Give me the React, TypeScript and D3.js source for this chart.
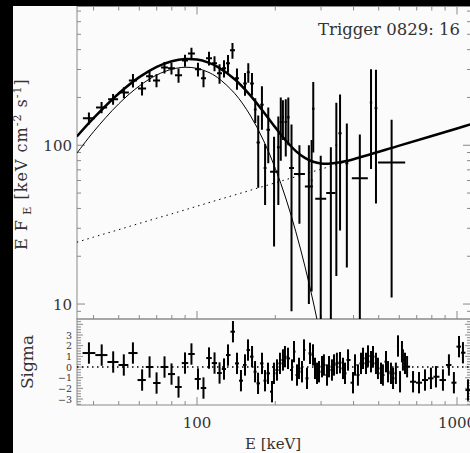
import React from 'react';
import * as d3 from 'd3';

// ---------- data ----------
// upper panel: energy bin edges (keV), E F_E value and 1-sigma error
const binLo = [36.4, 40.9, 45.5, 50.1, 54.7, 59.3, 63.7, 67.7, 72.7, 77.3, 82.3, 87.6, 92.3, 98.2, 103.6, 108.3, 114.2, 119.4, 124.8, 129.3, 133.9, 140,
  150.5, 155.5, 160, 165.5, 169.5, 175, 180.5, 185, 191, 203, 208, 212, 217, 222, 226, 236, 260, 277, 274, 285, 314, 341, 350, 372, 394, 462, 482, 497];
const binHi = [40.5, 45.1, 49.7, 54.7, 58.8, 63.7, 67.7, 72.1, 77.3, 82.3, 87.6, 92.3, 98.2, 103.6, 108.3, 114.2, 119.4, 124.8, 129.3, 133.9, 140, 145,
  155.5, 159.5, 165.5, 169.5, 174.5, 180.5, 185, 191, 205, 208, 212, 216, 222, 227, 236, 260, 279, 283, 278, 314, 341, 346, 360, 382, 454, 472, 494, 632];
const fluxVal = [148, 173, 195, 215, 256, 228, 272, 256, 309, 305, 276, 342, 379, 301, 264, 353, 328, 284, 305, 328, 396, 264,
  245, 288, 245, 168, 104, 180, 72, 125, 68, 97, 140, 150, 140, 150, 72, 66, 55, 170, 60, 46, 50, 100, 119, 77, 62, 186, 171, 78];
const fluxErr = [13, 14, 15, 17, 25, 22, 22, 24, 26, 26, 28, 30, 32, 30, 32, 35, 35, 40, 38, 42, 45, 40,
  40, 40, 40, 30, 50, 55, 30, 48, 45, 55, 60, 42, 55, 50, 63, 34, 45, 80, 48, 40, 47, 85, 90, 60, 55, 115, 128, 67];

// model curves (E F_E) sampled at energies
const modelE = [34.5, 40, 50, 60, 70, 80, 90, 100, 110, 120, 140, 160, 180, 200, 220, 240, 260, 280, 300, 320, 350, 400, 600, 800, 1000, 1200];
const compVal = [89, 121.7, 182.4, 236.3, 277, 301, 310, 305, 289.5, 266.8, 211, 155, 107.7, 71.6, 45.9, 28.5, 17.3, 10.3, 6.0, 3.45, 1.46, 0.33, 0, 0, 0, 0];
const plVal = [24.5, 26.4, 29.4, 32.2, 34.7, 37.0, 39.2, 41.3, 43.3, 45.2, 48.7, 52.0, 55.1, 58.0, 60.8, 63.4, 66.0, 68.4, 70.7, 73.0, 76.3, 81.4, 99.4, 114.4, 127.6, 139.6];

// residual panel: channel energies (keV) and residuals (sigma)
const resE = [38.4, 43.0, 47.6, 52.3, 56.7, 61.5, 65.7, 69.9, 75.0, 79.8, 84.9, 89.9, 95.2, 100.9, 105.9, 111.2, 116.8, 122.1, 127.0, 131.6,
  137.5, 142.5, 147.6, 153, 157.1, 162.8, 167.2, 171.7, 177.8, 182.6, 187.5, 194.3, 197.7, 203.1, 208.5, 214.1, 217.9, 223.9, 231.9, 236.1,
  242.5, 246.8, 253.4, 257.9, 264.9, 272, 279.3, 284.4, 289.5, 294.6, 302.6, 307.7, 316.2, 321.9, 330.4, 336.5, 345.2, 354.9, 364.4, 370.8,
  381, 398.1, 405.3, 415.9, 427.4, 434.9, 446.7, 454.7, 466.9, 475.3, 487.9, 496.6, 510.2, 518.9, 533.3, 542.8, 557.2, 567.5, 582.1, 593,
  603.8, 614.2, 619.5, 631, 642.7, 677.5, 714.2, 753.4, 794, 830, 883, 931, 973, 1018, 1054, 1102];
const resSig = [1.31, 1.12, 0.47, 0.19, 1.31, -1.22, 0, -1.5, 0, -0.66, -1.87, 0.37, 1.22, -1.12, -1.97, 0.84, 0.37, -0.56, -0.19, 1.12,
  3.31, 0.34, -1.28, 0.19, 1.59, 0.97, -0.44, -1.53, 0.34, -1.28, -0.59, -2.31, -0.59, -0.28, 0.34, 0.66, 0.97, 0.81, -0.28, 1.44,
  -0.75, -0.13, -0.44, 1.59, -1.06, 1.28, 1.13, -0.13, -0.59, -0.44, 0.03, 0.19, -0.75, 0.03, -0.28, 0.19, 0.34, 0.41, -0.13, -0.59,
  0.66, -1.47, 0.19, -0.75, 0.34, 0.81, 0.34, 1.03, 0.5, 0.97, 0.34, -0.13, -0.59, -0.75, 0.5, -0.44, -0.59, -1.06, -0.59, 1.97,
  -1.38, 1.44, 0.66, 0.34, 0.03, -1.38, -1.47, -1.22, -1.06, -0.91, -1.22, 0.19, -1.47, 1.91, 1.34, -2.16];

const xMajor = [100, 1000];
const xMinor = [40, 50, 60, 70, 80, 90, 200, 300, 400, 500, 600, 700, 800, 900];
const yMajor = [10, 100];
const yMajorLabels = ['10', '100'];
const yMinor = [9, 20, 30, 40, 50, 60, 70, 80, 90, 200, 300, 400, 500, 600, 700];
const sigLabels = [3, 2, 1, 0, -1, -2, -3];

export default function App() {
  const W = 470, H = 453;
  const L = 77, R = 471, T = 6.5, M = 319, B = 405;
  const x = d3.scaleLog().domain([34.55, 1132]).range([L, R]);
  const y = d3.scaleLog().domain([8.05, 748]).range([M, T]);
  const ys = d3.scaleLinear().domain([-3.56, 4.5]).range([B, M]);
  const axisCol = '#8a8a8a';
  const txtCol = '#333';
  const font = 'DejaVu Serif';

  const lineLL = d3.line<[number, number]>().x(d => x(d[0])).y(d => y(d[1])).curve(d3.curveCatmullRom);
  const compPts: [number, number][] = modelE.map((e, i) => [e, compVal[i]] as [number, number]).filter(d => d[1] > 0);
  const totPts: [number, number][] = modelE.map((e, i) => [e, compVal[i] + plVal[i]] as [number, number]);
  const plPts: [number, number][] = modelE.map((e, i) => [e, plVal[i]] as [number, number]);
  const plLine = d3.line<[number, number]>().x(d => x(d[0])).y(d => y(d[1]));

  // residual bin edges: log-midpoints between neighbouring channels
  const resEdges = resE.map((e, i) => {
    const prev = i > 0 ? resE[i - 1] : e * e / resE[i + 1];
    const next = i < resE.length - 1 ? resE[i + 1] : e * e / resE[i - 1];
    return [Math.sqrt(prev * e), Math.sqrt(e * next)];
  });

  const ticks: JSX.Element[] = [];
  [...xMajor.map(v => [v, 8]), ...xMinor.map(v => [v, 4])].forEach(([v, len], i) => {
    const px = x(v);
    ticks.push(<line key={'xt' + i} x1={px} x2={px} y1={T} y2={T + len} />);
    ticks.push(<line key={'xb' + i} x1={px} x2={px} y1={M} y2={M - len} />);
    ticks.push(<line key={'xl' + i} x1={px} x2={px} y1={B} y2={B - len} />);
  });
  [...yMajor.map(v => [v, 8]), ...yMinor.map(v => [v, 4])].forEach(([v, len], i) => {
    const py = y(v);
    ticks.push(<line key={'yl' + i} x1={L} x2={L + len} y1={py} y2={py} />);
    ticks.push(<line key={'yr' + i} x1={R} x2={R - len} y1={py} y2={py} />);
  });
  d3.range(-14, 18).forEach((k) => {
    const v = k * 0.25;
    const len = k % 4 === 0 ? 6 : 4;
    const py = ys(v);
    ticks.push(<line key={'sl' + k} x1={L} x2={L + len} y1={py} y2={py} />);
    ticks.push(<line key={'sr' + k} x1={R} x2={R - len} y1={py} y2={py} />);
  });

  return (
    <svg width={W} height={H} style={{ position: 'absolute', left: 0, top: 0 }} xmlns="http://www.w3.org/2000/svg">
      <defs>
        <clipPath id="upClip"><rect x={L} y={T} width={R - L} height={M - T} /></clipPath>
        <clipPath id="loClip"><rect x={L} y={M} width={R - L} height={B - M} /></clipPath>
      </defs>
      <rect x={0} y={0} width={W} height={H} fill="#000" />
      <rect x={13} y={6} width={W - 13} height={H - 6} fill="#fbfbfb" />

      <g stroke={axisCol} strokeWidth={1} fill="none">
        <rect x={L} y={T} width={R - L} height={M - T} />
        <rect x={L} y={M} width={R - L} height={B - M} />
        {ticks}
      </g>

      <g clipPath="url(#upClip)">
        <path d={plLine(plPts) || ''} fill="none" stroke="#000" strokeWidth={1} strokeDasharray="1.5,4" />
        <path d={lineLL(compPts) || ''} fill="none" stroke="#000" strokeWidth={1} />
        <path d={lineLL(totPts) || ''} fill="none" stroke="#000" strokeWidth={2.5} />
        <g stroke="#000" strokeWidth={2}>
          {fluxVal.map((f, i) => {
            const xc = x(Math.sqrt(binLo[i] * binHi[i]));
            const lo = f - fluxErr[i];
            const yTop = y(f + fluxErr[i]);
            const yBot = lo > 0 ? y(lo) : M + 10;
            return (
              <g key={'f' + i}>
                <line x1={x(binLo[i])} x2={x(binHi[i])} y1={y(f)} y2={y(f)} />
                <line x1={xc} x2={xc} y1={yTop} y2={Math.min(yBot, M + 10)} />
              </g>
            );
          })}
        </g>
      </g>

      <g clipPath="url(#loClip)">
        <line x1={L} x2={R} y1={ys(0)} y2={ys(0)} stroke="#000" strokeWidth={1.5} strokeDasharray="1.5,3.5" />
        <g stroke="#000" strokeWidth={2}>
          {resSig.map((s, i) => {
            const xc = x(resE[i]);
            return (
              <g key={'r' + i}>
                <line x1={x(resEdges[i][0])} x2={x(resEdges[i][1])} y1={ys(s)} y2={ys(s)} />
                <line x1={xc} x2={xc} y1={ys(s + 1)} y2={ys(s - 1)} />
              </g>
            );
          })}
        </g>
      </g>

      <g fill={txtCol} fontFamily={font}>
        <text x={318} y={35} fontSize={16.5}>Trigger 0829: 16</text>
        {yMajor.map((v, i) => (
          <text key={'yl' + i} x={72} y={y(v) + 6} fontSize={15} textAnchor="end">{yMajorLabels[i]}</text>
        ))}
        {sigLabels.map((v) => (
          <text key={'sg' + v} x={72} y={ys(v) + 3.5} fontSize={9.5} textAnchor="end">{v < 0 ? '\u2212' + Math.abs(v) : String(v)}</text>
        ))}
        {xMajor.map((v) => (
          <text key={'xl' + v} x={x(v)} y={428} fontSize={15} textAnchor="middle">{String(v)}</text>
        ))}
        <text x={245} y={449} fontSize={15}>E [keV]</text>
        <text transform="translate(33,362) rotate(-90)" fontSize={17} textAnchor="middle">Sigma</text>
        <text transform="translate(27,250) rotate(-90)" fontSize={16} letterSpacing={1}>
          <tspan>E F</tspan>
          <tspan fontSize={11} dy={4}> E</tspan>
          <tspan dy={-4}> [keV cm</tspan>
          <tspan fontSize={11} dy={-6}>-2</tspan>
          <tspan dy={6}> s</tspan>
          <tspan fontSize={11} dy={-6}>-1</tspan>
          <tspan dy={6}>]</tspan>
        </text>
      </g>
    </svg>
  );
}
